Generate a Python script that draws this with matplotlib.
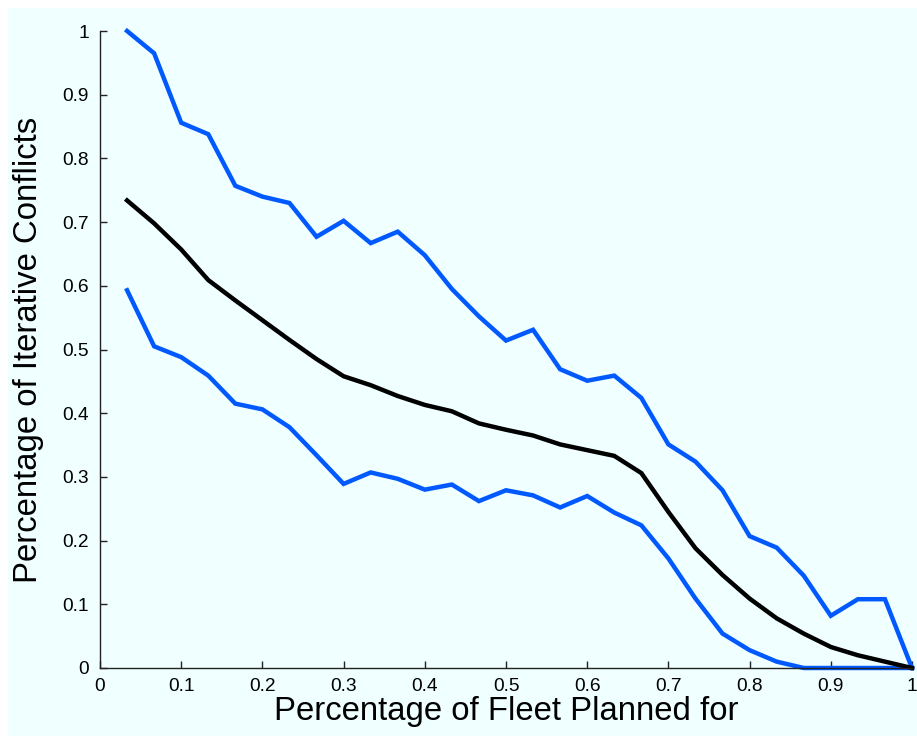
import matplotlib
matplotlib.use("Agg")
import matplotlib.pyplot as plt
from matplotlib.patches import Rectangle

plt.rcParams['font.family'] = ['Liberation Sans', 'DejaVu Sans']

fraction = [k / 30 for k in range(1, 31)]
upper = [1.0, 0.965, 0.856, 0.838, 0.757, 0.74, 0.73, 0.677, 0.702, 0.667,
         0.685, 0.648, 0.595, 0.552, 0.514, 0.531, 0.469, 0.451, 0.459, 0.424,
         0.351, 0.324, 0.279, 0.207, 0.189, 0.145, 0.082, 0.108, 0.108, 0.0]
mean = [0.734, 0.698, 0.657, 0.609, 0.577, 0.546, 0.515, 0.485, 0.458, 0.444,
        0.427, 0.413, 0.403, 0.384, 0.374, 0.365, 0.351, 0.342, 0.333, 0.306,
        0.245, 0.188, 0.146, 0.109, 0.078, 0.054, 0.033, 0.020, 0.010, 0.0]
lower = [0.593, 0.505, 0.488, 0.459, 0.415, 0.406, 0.378, 0.334, 0.289, 0.307,
         0.297, 0.280, 0.288, 0.262, 0.279, 0.271, 0.252, 0.270, 0.244, 0.224,
         0.172, 0.109, 0.054, 0.028, 0.010, 0.0, 0.0, 0.0, 0.0, 0.0]
ticks = [0, 0.1, 0.2, 0.3, 0.4, 0.5, 0.6, 0.7, 0.8, 0.9, 1]
tick_labels = ['0', '0.1', '0.2', '0.3', '0.4', '0.5', '0.6', '0.7', '0.8', '0.9', '1']

bg = '#f0ffff'
blue = '#0059ff'

fig = plt.figure(figsize=(9.17, 7.36), dpi=100, facecolor='white')
fig.patches.append(Rectangle((8 / 917, 0), 1 - 8 / 917, 1 - 8 / 736,
                             transform=fig.transFigure, facecolor=bg,
                             edgecolor='none', zorder=-10))
ax = fig.add_axes([100 / 917, 68 / 736, 812 / 917, 637 / 736])
ax.set_facecolor(bg)

kw = dict(lw=3.2, clip_on=False, solid_joinstyle='miter')
ax.plot(fraction, upper, color=blue, **kw)
ax.plot(fraction, lower, color=blue, **kw)
ax.plot(fraction, mean, color='black', **kw)

ax.set_xlim(0, 1)
ax.set_ylim(0, 1)
ax.set_xticks(ticks)
ax.set_xticklabels(tick_labels)
ax.set_yticks(ticks)
ax.set_yticklabels(tick_labels)
for s in ['top', 'right']:
    ax.spines[s].set_visible(False)
for s in ['left', 'bottom']:
    ax.spines[s].set_color('#222222')
    ax.spines[s].set_linewidth(1.0)
ax.tick_params(direction='in', length=5, width=1, colors='#222222',
               labelcolor='black', labelsize=13.8)
ax.tick_params(axis='y', pad=8)
ax.tick_params(axis='x', pad=7)

ax.set_xlabel('Percentage of Fleet Planned for', fontsize=23.7, labelpad=1)
ax.set_ylabel('Percentage of Iterative Conflicts', fontsize=23.7, labelpad=13)

fig.savefig('out.png', dpi=100, facecolor=fig.get_facecolor())
